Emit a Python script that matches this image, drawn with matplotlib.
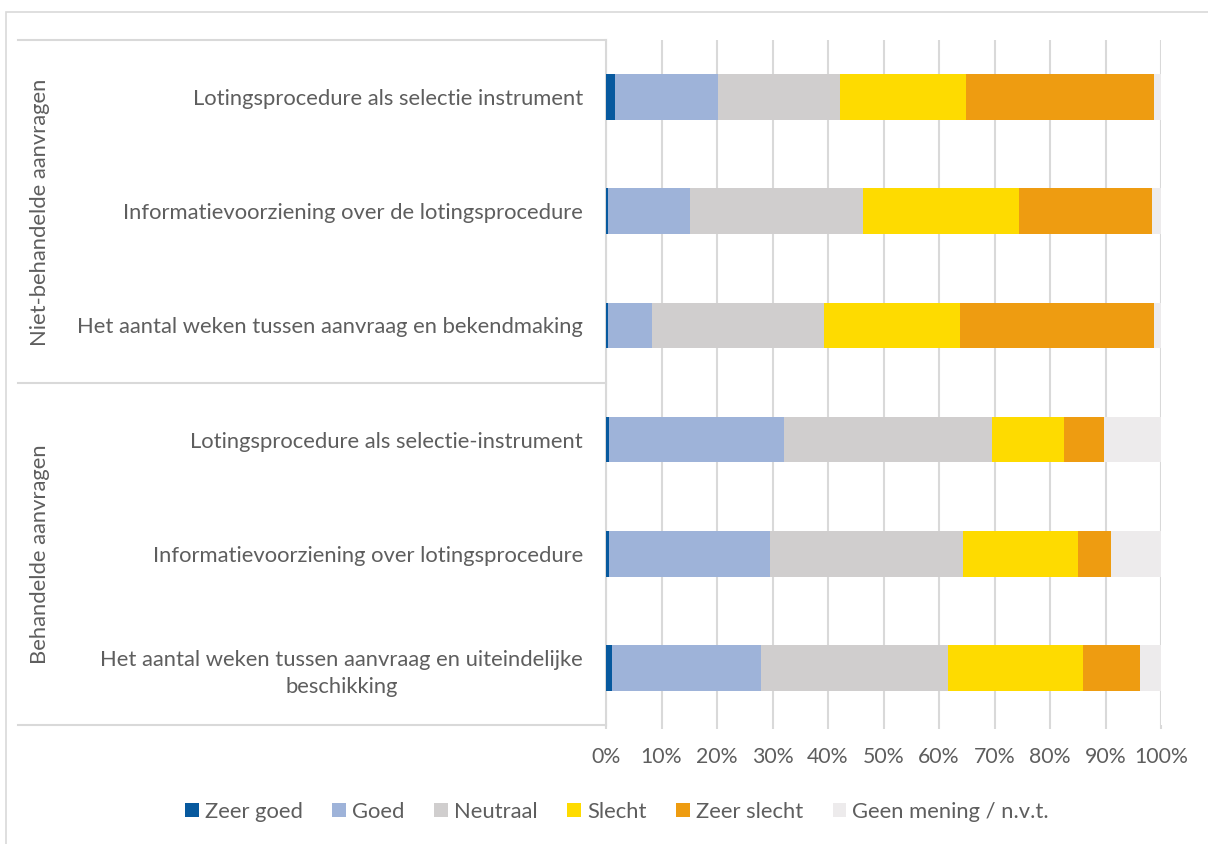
import matplotlib
matplotlib.use("Agg")
import matplotlib.pyplot as plt
from matplotlib.lines import Line2D
from matplotlib.patches import Rectangle
import numpy as np

categories = [
    "Lotingsprocedure als selectie instrument",
    "Informatievoorziening over de lotingsprocedure",
    "Het aantal weken tussen aanvraag en bekendmaking",
    "Lotingsprocedure als selectie-instrument",
    "Informatievoorziening over lotingsprocedure",
    "Het aantal weken tussen aanvraag en uiteindelijke\nbeschikking",
]
groups = ["Niet-behandelde aanvragen", "Behandelde aanvragen"]
series_names = ["Zeer goed", "Goed", "Neutraal", "Slecht", "Zeer slecht", "Geen mening / n.v.t."]
zeer_goed = [1.6, 0.3, 0.3, 0.6, 0.6, 1.1]
goed = [18.5, 14.9, 7.9, 31.5, 29.0, 26.9]
neutraal = [22.1, 31.1, 31.0, 37.5, 34.8, 33.7]
slecht = [22.6, 28.1, 24.5, 12.9, 20.6, 24.3]
zeer_slecht = [34.0, 23.9, 35.1, 7.2, 6.0, 10.3]
geen_mening = [1.2, 1.7, 1.2, 10.3, 9.0, 3.7]
xticks = [0, 10, 20, 30, 40, 50, 60, 70, 80, 90, 100]

colors = ["#07599E", "#9EB3D9", "#D0CECE", "#FEDB00", "#EE9C11", "#EDEBEC"]
text_color = "#5E5E5E"
grid_color = "#D9D9D9"

plt.rcParams["font.family"] = ["Lato", "DejaVu Sans"]
FS = 15.8

W, H = 1208, 844
fig = plt.figure(figsize=(W / 100, H / 100), dpi=100)

def fx(px):
    return px / W

def fy(py):
    return 1 - py / H

ax_left, ax_right, ax_top, ax_bot = 606, 1161, 40, 725
ax = fig.add_axes([fx(ax_left), fy(ax_bot), fx(ax_right - ax_left), (ax_bot - ax_top) / H])

data = [zeer_goed, goed, neutraal, slecht, zeer_slecht, geen_mening]
y = np.arange(len(categories))
left = np.zeros(len(categories))
for vals, name, c in zip(data, series_names, colors):
    vals = np.array(vals)
    ax.barh(y, vals, left=left, height=0.4, color=c, label=name, edgecolor="none", zorder=3)
    left += vals

ax.set_ylim(len(categories) - 0.5, -0.5)
ax.set_xlim(0, 100)
ax.set_xticks(xticks)
ax.set_xticklabels([f"{t}%" for t in xticks])
ax.set_yticks(y)
ax.set_yticklabels(categories, multialignment="center", linespacing=1.47)
ax.tick_params(axis="y", length=0, pad=16.5, labelsize=FS, labelcolor=text_color)
ax.tick_params(axis="x", length=3, width=1.5, color=grid_color, pad=13, labelsize=15.3, labelcolor=text_color)
ax.grid(axis="x", color=grid_color, linewidth=1.5, zorder=0)
for s in ["top", "right", "bottom"]:
    ax.spines[s].set_visible(False)
ax.spines["left"].set_color(grid_color)
ax.spines["left"].set_linewidth(1.5)
ax.set_axisbelow(True)

# group separators
for py in [40, 383, 725]:
    fig.add_artist(Line2D([fx(18), fx(606)], [fy(py), fy(py)], color=grid_color, lw=1.5))

fig.text(fx(40), fy(212), groups[0], rotation=90, ha="center", va="center",
         fontsize=FS, color=text_color)
fig.text(fx(40), fy(554), groups[1], rotation=90, ha="center", va="center",
         fontsize=FS, color=text_color)

# outer chart border
fig.add_artist(Rectangle((fx(6), fy(850)), fx(1210), (850 - 12) / H, fill=False,
                         edgecolor=grid_color, lw=1.2))

handles, labels = ax.get_legend_handles_labels()
fig.legend(handles, labels, loc="center", bbox_to_anchor=(fx(617), fy(812)), ncol=6,
           frameon=False, fontsize=FS, labelcolor=text_color, handlelength=0.62,
           handleheight=0.62, handletextpad=0.28, columnspacing=1.35)

fig.savefig("out.png", dpi=100, facecolor="white")
